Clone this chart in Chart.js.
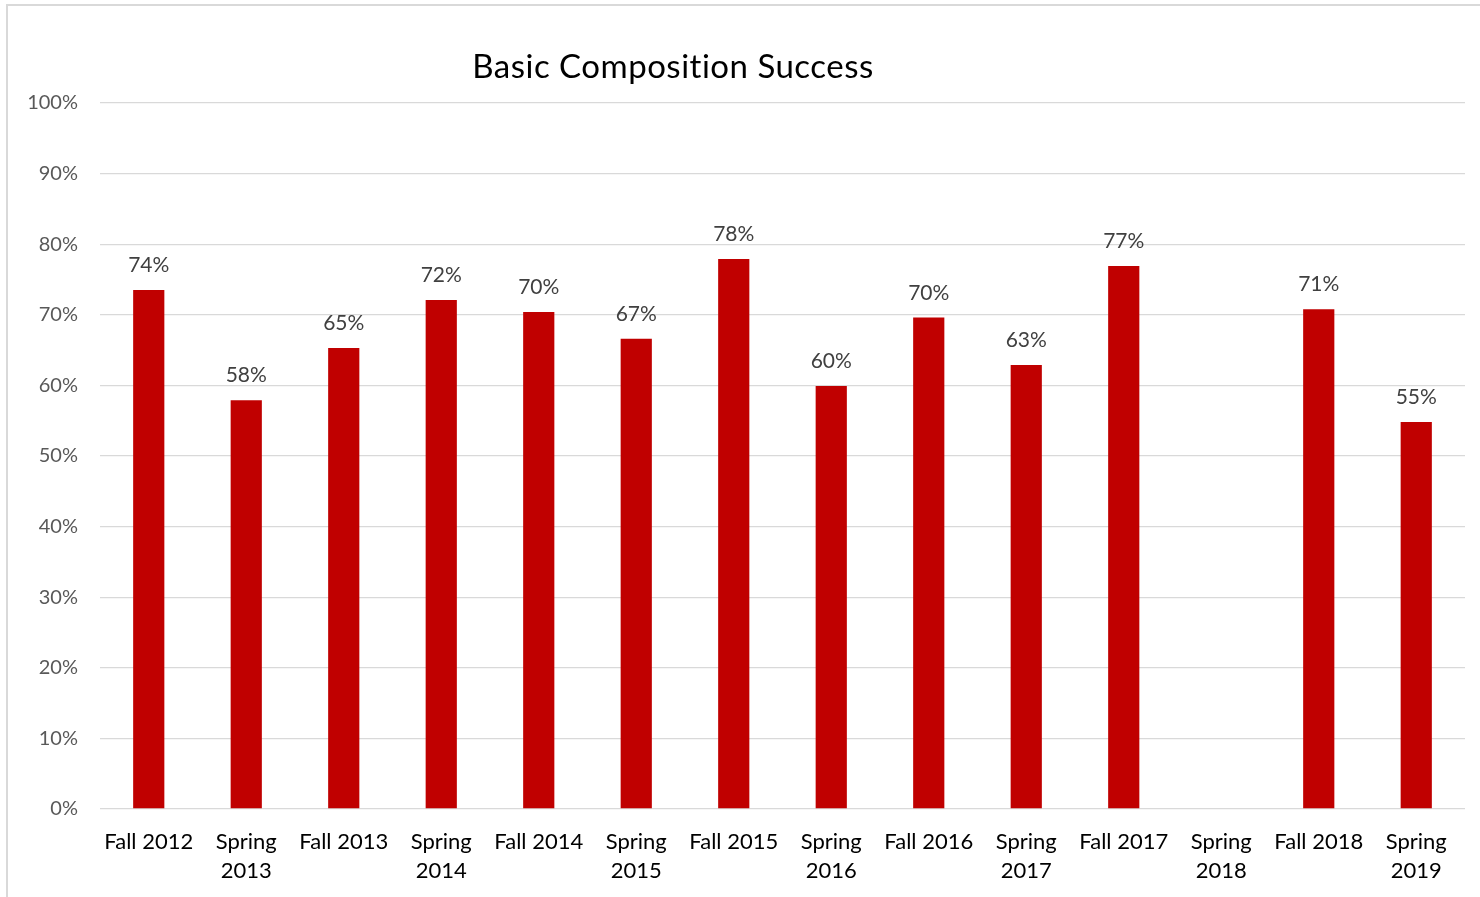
<!DOCTYPE html>
<html>
<head>
<meta charset="utf-8">
<title>Basic Composition Success</title>
<script src="https://cdn.jsdelivr.net/npm/chart.js@4"></script>
<style>
  html, body { margin: 0; padding: 0; background: #fff; }
  #wrap { width: 1480px; height: 897px; position: relative; }
</style>
</head>
<body>
<div id="wrap"><canvas id="myChart1"></canvas></div>
<script>
// datos
const semesters = [
  'Fall 2012', ['Spring', '2013'], 'Fall 2013', ['Spring', '2014'], 'Fall 2014',
  ['Spring', '2015'], 'Fall 2015', ['Spring', '2016'], 'Fall 2016', ['Spring', '2017'],
  'Fall 2017', ['Spring', '2018'], 'Fall 2018', ['Spring', '2019']
];
const successRate = [73.5, 57.9, 65.3, 72.1, 70.4, 66.6, 77.9, 59.9, 69.6, 62.9, 76.9, null, 70.8, 54.8];
const yTicks = [0, 10, 20, 30, 40, 50, 60, 70, 80, 90, 100];
const chartTitle = 'Basic Composition Success';

const FONT = 'Lato, "Open Sans", sans-serif';

// borde del grafico + titulo
const frame = {
  id: 'frame',
  beforeDraw(chart) {
    const ctx = chart.ctx;
    ctx.save();
    ctx.fillStyle = '#fff';
    ctx.fillRect(0, 0, chart.width, chart.height);
    ctx.strokeStyle = '#d9d9d9';
    ctx.lineWidth = 2;
    ctx.strokeRect(7, 5, chart.width + 20, chart.height + 20);
    ctx.restore();
  },
  afterDraw(chart) {
    const ctx = chart.ctx;
    ctx.save();
    ctx.fillStyle = '#000';
    ctx.font = '33px ' + FONT;
    ctx.letterSpacing = '0.5px'; // evita la ligadura "ti"
    ctx.textAlign = 'center';
    ctx.textBaseline = 'middle';
    ctx.fillText(chartTitle, 673, 67);
    ctx.restore();
  }
};

// etiquetas de valor encima de cada barra
const barLabels = {
  id: 'barLabels',
  afterDatasetsDraw(chart) {
    const ctx = chart.ctx;
    const meta = chart.getDatasetMeta(0);
    ctx.save();
    ctx.fillStyle = '#404040';
    ctx.font = '21px ' + FONT;
    ctx.textAlign = 'center';
    ctx.textBaseline = 'alphabetic';
    meta.data.forEach((bar, i) => {
      const v = successRate[i];
      if (v === null) return;
      ctx.fillText(Math.round(v) + '%', bar.x, bar.y - 18);
    });
    ctx.restore();
  }
};

const ctx = document.getElementById('myChart1').getContext('2d');
const myChart = new Chart(ctx, {
  type: 'bar',
  data: {
    labels: semesters,
    datasets: [{
      label: chartTitle,
      data: successRate,
      backgroundColor: '#c00000',
      barPercentage: 0.32,
      categoryPercentage: 1.0,
    }]
  },
  options: {
    responsive: true,
    maintainAspectRatio: false,
    animation: false,
    layout: { padding: { top: 103, right: 15, bottom: 0, left: 0 } },
    plugins: {
      legend: { display: false },
      title: { display: false },
      tooltip: { enabled: false },
    },
    scales: {
      x: {
        grid: { display: false },
        border: { display: false },
        ticks: {
          color: '#000',
          font: { family: FONT, size: 22, lineHeight: 1.32 },
          padding: 10,
          maxRotation: 0,
          autoSkip: false,
        },
        afterFit: (s) => { s.height = 88; },
      },
      y: {
        min: 0,
        max: 100,
        afterBuildTicks: (s) => { s.ticks = yTicks.map(v => ({ value: v })); },
        grid: { color: '#d9d9d9', lineWidth: 1.3, drawTicks: false },
        border: { display: false },
        ticks: {
          color: '#595959',
          font: { family: FONT, size: 20 },
          padding: 22,
          callback: (v) => v + '%',
        },
        afterFit: (s) => { s.width = 100; },
      }
    }
  },
  plugins: [frame, barLabels]
});
</script>
</body>
</html>
